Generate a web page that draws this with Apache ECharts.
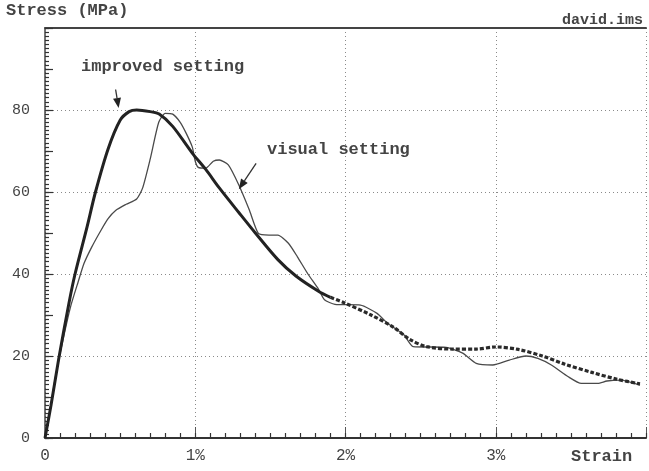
<!DOCTYPE html>
<html>
<head>
<meta charset="utf-8">
<script src="https://cdn.jsdelivr.net/npm/echarts@6/dist/echarts.min.js"></script>
<style>
html,body{margin:0;padding:0;background:#fff;}
#chart{width:649px;height:471px;}
</style>
</head>
<body>
<div id="chart"></div>
<script>
// ---- data (strain in %, stress in MPa) ----
const xTickValues = [0, 1, 2, 3];
const xTickLabels = ['0', '1%', '2%', '3%'];
const yTickValues = [0, 20, 40, 60, 80];

const improvedStrain = [0, 0.04, 0.09, 0.16, 0.2, 0.28, 0.336, 0.42, 0.5, 0.56, 0.61, 0.7, 0.76, 0.85, 0.98, 1.07, 1.16, 1.29, 1.4, 1.55, 1.67, 1.82, 1.9];
const improvedStress = [0, 8, 19, 33, 40, 51.5, 60, 70.5, 77.5, 79.6, 80, 79.6, 79, 76, 69.5, 65.5, 61, 55, 50, 43.5, 39.5, 35.8, 34.3];
const improvedTailStrain = [1.9, 1.99, 2.17, 2.32, 2.43, 2.54, 2.71, 2.87, 3.0, 3.15, 3.31, 3.46, 3.64, 3.81, 3.96];
const improvedTailStress = [34.3, 33, 30, 27, 24, 22.3, 21.7, 21.7, 22.2, 21.6, 20, 18, 16, 14.3, 13.2];

const visualStrain = [0, 0.03, 0.07, 0.12, 0.17, 0.22, 0.26, 0.31, 0.37, 0.42, 0.47, 0.54, 0.61, 0.65, 0.7, 0.757, 0.8, 0.85, 0.9, 0.94, 0.98, 1.0, 1.02, 1.07, 1.12, 1.16, 1.22, 1.29, 1.36, 1.42, 1.49, 1.55, 1.62, 1.68, 1.75, 1.82, 1.86, 1.93, 2.1, 2.21, 2.28, 2.39, 2.45, 2.67, 2.78, 2.87, 2.98, 3.09, 3.2, 3.28, 3.37, 3.48, 3.57, 3.68, 3.74, 3.83, 3.96];
const visualStress = [0, 6, 15, 24, 32, 38, 42.6, 46.5, 50.5, 53.5, 55.5, 57, 58.3, 61, 68, 77, 79.2, 79, 77, 74.3, 71, 67.5, 66, 65.8, 67.5, 67.8, 66.6, 61.7, 55.6, 49.9, 49.5, 49.5, 47.5, 44.2, 40, 36.3, 33.7, 32.6, 32.4, 30.4, 28, 25.1, 22.3, 22.1, 20.7, 18.2, 17.8, 19, 20, 19.4, 17.8, 15, 13.3, 13.3, 13.9, 14.1, 12.9];

const zip = (a, b) => a.map((v, i) => [v, b[i]]);

const FONT = '"Liberation Mono", "DejaVu Sans Mono", monospace';
const chart = echarts.init(document.getElementById('chart'), null, {renderer: 'canvas'});

const tickOnlyX = (interval, len, pos) => ({
  type: 'value', min: 0, max: 4, interval: interval, position: pos || 'bottom',
  axisLine: {show: false},
  axisTick: {show: true, inside: true, length: len, lineStyle: {color: '#333', width: 1.2}},
  axisLabel: {show: false}, splitLine: {show: false}
});
const tickOnlyY = (interval, len) => ({
  type: 'value', min: 0, max: 100, interval: interval, position: 'left',
  axisLine: {show: false},
  axisTick: {show: true, inside: true, length: len, lineStyle: {color: '#333', width: 1.2}},
  axisLabel: {show: false}, splitLine: {show: false}
});

const option = {
  animation: false,
  backgroundColor: '#fff',
  grid: {left: 45, top: 28, width: 608, height: 410, containLabel: false},
  xAxis: [{
    type: 'value', min: 0, max: 4, interval: 1,
    axisLine: {show: true, lineStyle: {color: '#333', width: 2}},
    axisTick: {show: true, inside: true, length: 11, lineStyle: {color: '#555', width: 1}},
    axisLabel: {
      margin: 10, color: '#444', fontFamily: FONT, fontSize: 16,
      formatter: v => { const i = xTickValues.indexOf(v); return i >= 0 ? xTickLabels[i] : ''; }
    },
    splitLine: {show: true, lineStyle: {color: '#8a8a8a', width: 1, type: [1, 3]}}
  }, {
    type: 'value', min: 0, max: 4, position: 'top',
    axisLine: {show: true, onZero: false, lineStyle: {color: '#444', width: 2}},
    axisTick: {show: false}, axisLabel: {show: false}, splitLine: {show: false}
  }, tickOnlyX(0.1, 5, 'bottom')],
  yAxis: [{
    type: 'value', min: 0, max: 100, interval: 20,
    axisLine: {show: true, lineStyle: {color: '#444', width: 1.5}},
    axisTick: {show: true, inside: true, length: 6, lineStyle: {color: '#555'}},
    axisLabel: {
      margin: 15, color: '#444', fontFamily: FONT, fontSize: 15,
      formatter: v => yTickValues.indexOf(v) >= 0 ? String(v) : ''
    },
    splitLine: {show: true, lineStyle: {color: '#8a8a8a', width: 1, type: [1, 3]}}
  }, tickOnlyY(10, 8), tickOnlyY(1, 4)],
  series: [{
    name: 'visual setting', type: 'line', xAxisIndex: 0, yAxisIndex: 0,
    data: zip(visualStrain, visualStress), showSymbol: false, smooth: 0.2,
    lineStyle: {color: '#4a4a4a', width: 1.3}, z: 3
  }, {
    name: 'improved setting', type: 'line', xAxisIndex: 0, yAxisIndex: 0,
    data: zip(improvedStrain, improvedStress), showSymbol: false, smooth: 0.3,
    lineStyle: {color: '#222', width: 3}, z: 4
  }, {
    name: 'improved setting tail', type: 'line', xAxisIndex: 0, yAxisIndex: 0,
    data: zip(improvedTailStrain, improvedTailStress), showSymbol: false, smooth: 0.3,
    lineStyle: {color: '#2a2a2a', width: 3.2, type: [4, 2]}, z: 4
  }]
};
chart.setOption(option);

function arrow(tail, tip) {
  const p0 = chart.convertToPixel({xAxisIndex: 0, yAxisIndex: 0}, tail);
  const p1 = chart.convertToPixel({xAxisIndex: 0, yAxisIndex: 0}, tip);
  const dx = p1[0] - p0[0], dy = p1[1] - p0[1];
  const L = Math.hypot(dx, dy), ux = dx / L, uy = dy / L;
  const hl = 10, hw = 4;
  const bx = p1[0] - ux * hl, by = p1[1] - uy * hl;
  return [{
    type: 'line', shape: {x1: p0[0], y1: p0[1], x2: bx, y2: by},
    style: {stroke: '#333', lineWidth: 1.3}, z: 10
  }, {
    type: 'polygon',
    shape: {points: [[p1[0], p1[1]], [bx - uy * hw, by + ux * hw], [bx + uy * hw, by - ux * hw]]},
    style: {fill: '#222'}, z: 10
  }];
}

const textStyle = (t, x, y, size, align) => ({
  type: 'text', x: x, y: y,
  style: {text: t, fill: '#444', font: 'bold ' + size + 'px ' + FONT, align: align || 'left', verticalAlign: 'middle'},
  z: 10
});

chart.setOption({
  graphic: [
    textStyle('Stress (MPa)', 6, 11, 17),
    textStyle('david.ims', 643, 20, 15, 'right'),
    textStyle('Strain', 571, 457, 17),
    textStyle('improved setting', 81, 67, 17),
    textStyle('visual setting', 267, 150, 17)
  ].concat(arrow([0.47, 85], [0.49, 80.5])).concat(arrow([1.405, 67], [1.29, 60.7]))
});
</script>
</body>
</html>
